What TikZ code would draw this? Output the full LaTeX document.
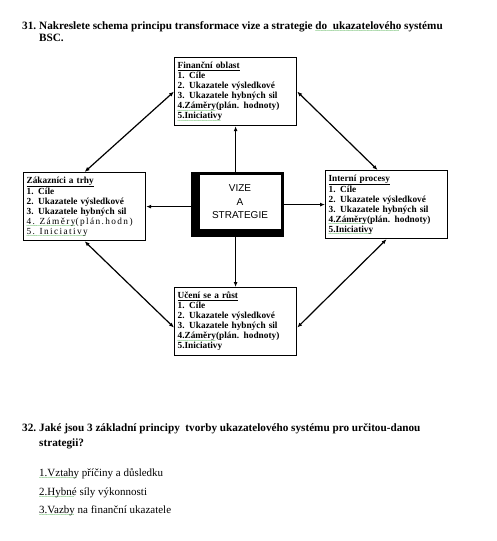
\documentclass[tikz,border=0pt]{standalone}
\usepackage{fontspec}
\setmainfont{Liberation Serif}
\newfontfamily\arialfont{Liberation Sans}
\usetikzlibrary{arrows.meta, calc, positioning}

% vlnovka kontroly pravopisu
\newcommand{\spell}[1]{\leavevmode\setbox0=\hbox{#1}\rlap{\smash{\lower3.2pt\hbox{\color{green!55!black}\fontsize{5}{5}\selectfont\mdseries\leaders\hbox{\char"7E}\hskip\wd0}}}\box0\relax}

\begin{document}
\begin{tikzpicture}[x=1pt, y=-1pt, >={Latex[length=5pt, width=4pt]},
  felt/.style={draw, line width=1.2pt, anchor=north west, align=left, inner sep=3pt,
    text width=116pt, minimum width=122pt, minimum height=68pt,
    font=\fontsize{9.3}{10}\selectfont\bfseries},
  otazka/.style={anchor=base west, inner sep=0pt, font=\fontsize{11.2}{12}\selectfont\bfseries},
  bod/.style={anchor=base west, inner sep=0pt, font=\fontsize{11}{12}\selectfont}]
  \useasboundingbox (0,0) rectangle (496,541);
  % otazka 31
  \node[otazka] (num31) at (22,29) {31.};
  \node[otazka] (q31a) at (39,29) {Nakreslete schema principu transformace vize a strategie \spell{do\ \ ukazatelového} systému};
  \node[otazka] (q31b) at (39,41.5) {BSC.};
  % krabice
  \node[felt] (fin) at (174,57) {\underline{Finanční oblast}\\1. Cíle\\2. Ukazatele výsledkové\\3. Ukazatele hybných sil\\\spell{4.Záměry}(plán. hodnoty)\\\spell{5.Iniciativy}};
  \node[felt] (zak) at (23,172) {\underline{Zákazníci a trhy}\\1. Cíle\\2. Ukazatele výsledkové\\3. Ukazatele hybných sil\\{\mdseries\addfontfeature{LetterSpace=15}\spell{4. Záměry}(plán.hodn)}\\{\mdseries\addfontfeature{LetterSpace=15}\spell{5. Iniciativy}}};
  \node[felt] (int) at (325,170) {\underline{Interní procesy}\\1. Cíle\\2. Ukazatele výsledkové\\3. Ukazatele hybných sil\\\spell{4.Záměry}(plán. hodnoty)\\\spell{5.Iniciativy}};
  \node[felt] (uceni) at (174,287) {\underline{Učení se a růst}\\1. Cíle\\2. Ukazatele výsledkové\\3. Ukazatele hybných sil\\\spell{4.Záměry}(plán. hodnoty)\\5.Iniciativy};
  % stred
  \node[draw, fill=black, inner sep=0pt, minimum width=92pt, minimum height=64pt] (vize) at (237,204) {};
  \node[draw, fill=white, line width=0.6pt, inner sep=0pt, minimum width=82pt, minimum height=55pt,
    align=center, font=\arialfont\fontsize{10}{13.5}\selectfont] (vizetext) at (240,202) {VIZE\\A\\STRATEGIE};
  % sipky
  \begin{scope}[line width=1.2pt]
    \draw[->] (fin.south |- vize.north) -- (fin.south);
    \draw[->] (vize.west |- zak.east) -- (zak.east);
    \draw[->] (vize.east |- int.west) -- (int.west);
    \draw[->] (uceni.north |- vize.south) -- (uceni.north);
    \draw[<->] (zak.north) -- (fin.west);
    \draw[<->] (fin.east) -- ($(int.north)+(-9,0)$);
    \draw[<->] (int.south) -- ($(uceni.east)+(0,6)$);
    \draw[<->] (zak.south) -- ($(uceni.west)+(0,6)$);
  \end{scope}
  % otazka 32
  \node[otazka] (num32) at (22,431) {32.};
  \node[otazka] (q32a) at (39,431) {Jaké jsou 3 základní principy\ \ tvorby ukazatelového systému pro určitou-danou};
  \node[otazka] (q32b) at (39,446) {strategii?};
  \node[bod] (p1) at (39,476) {\spell{1.Vztahy} příčiny a důsledku};
  \node[bod] (p2) at (39,495) {\spell{2.Hybné} síly výkonnosti};
  \node[bod] (p3) at (39,513.5) {\spell{3.Vazby} na finanční ukazatele};
\end{tikzpicture}
\end{document}
